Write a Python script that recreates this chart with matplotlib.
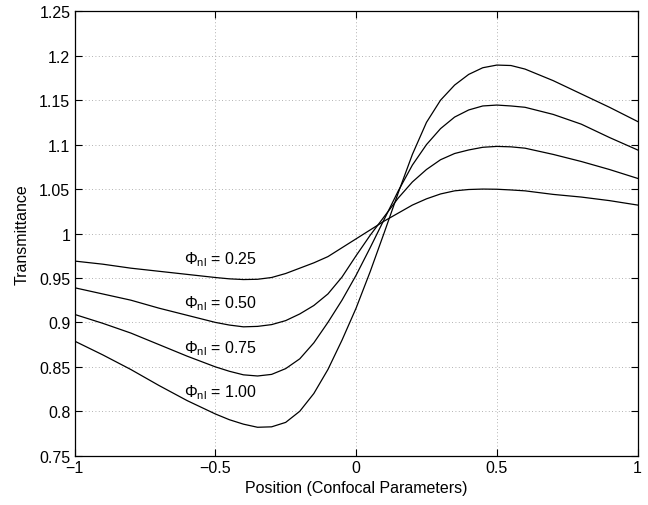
import numpy as np
import matplotlib
matplotlib.use("Agg")
import matplotlib.pyplot as plt
from matplotlib.ticker import FixedLocator, FuncFormatter

plt.rcParams['font.family'] = ['Liberation Sans', 'DejaVu Sans']
plt.rcParams['mathtext.fontset'] = 'custom'
plt.rcParams['mathtext.rm'] = 'Liberation Sans'
plt.rcParams['mathtext.it'] = 'Liberation Sans:italic'

# position in confocal parameters
position = [-1.0, -0.9, -0.8, -0.7, -0.6, -0.5, -0.45, -0.4, -0.35, -0.3, -0.25,
            -0.2, -0.15, -0.1, -0.05, 0.0, 0.05, 0.1, 0.15, 0.2, 0.25, 0.3,
            0.35, 0.4, 0.45, 0.5, 0.55, 0.6, 0.7, 0.8, 0.9, 1.0]

t_025 = [0.969, 0.9655, 0.961, 0.9575, 0.954, 0.9505, 0.949, 0.9482, 0.9485, 0.9505, 0.955,
         0.961, 0.967, 0.974, 0.984, 0.994, 1.004, 1.014, 1.023, 1.032, 1.039, 1.0445,
         1.048, 1.0495, 1.050, 1.0498, 1.049, 1.048, 1.044, 1.041, 1.037, 1.032]
t_050 = [0.939, 0.932, 0.925, 0.916, 0.908, 0.900, 0.897, 0.895, 0.8955, 0.8975, 0.902,
         0.9095, 0.919, 0.932, 0.951, 0.975, 0.998, 1.019, 1.040, 1.058, 1.072, 1.083,
         1.090, 1.094, 1.097, 1.098, 1.0975, 1.096, 1.089, 1.081, 1.072, 1.062]
t_075 = [0.909, 0.899, 0.888, 0.875, 0.862, 0.850, 0.845, 0.841, 0.8397, 0.8415, 0.848,
         0.859, 0.877, 0.900, 0.925, 0.953, 0.984, 1.016, 1.048, 1.077, 1.100, 1.118,
         1.131, 1.139, 1.1435, 1.1445, 1.1435, 1.142, 1.134, 1.123, 1.108, 1.094]
t_100 = [0.879, 0.8635, 0.847, 0.829, 0.812, 0.797, 0.7905, 0.7855, 0.782, 0.7825, 0.7875,
         0.800, 0.820, 0.847, 0.880, 0.916, 0.957, 1.001, 1.046, 1.089, 1.125, 1.150,
         1.167, 1.179, 1.1865, 1.1895, 1.189, 1.185, 1.172, 1.157, 1.142, 1.126]

phase = ['0.25', '0.50', '0.75', '1.00']
label_y = [0.9665, 0.9165, 0.8665, 0.8165]

xticks = [-1, -0.5, 0, 0.5, 1]
yticks = [0.75, 0.8, 0.85, 0.9, 0.95, 1.0, 1.05, 1.1, 1.15, 1.2, 1.25]

fig = plt.figure(figsize=(6.48, 5.06), dpi=100)
ax = fig.add_axes([0.115, 0.0974, 0.869, 0.8783])

for t in [t_025, t_050, t_075, t_100]:
    ax.plot(position, t, color='black', lw=0.9)

for p, yy in zip(phase, label_y):
    ax.text(-0.611, yy, r'$\Phi_{\rm nl}$ = ' + p, fontsize=11.5, ha='left', va='baseline')

ax.set_xlim(-1, 1)
ax.set_ylim(0.75, 1.25)
ax.xaxis.set_major_locator(FixedLocator(xticks))
ax.yaxis.set_major_locator(FixedLocator(yticks))
fmt = FuncFormatter(lambda v, pos: ('%g' % v).replace('-', '\u2212'))
ax.xaxis.set_major_formatter(fmt)
ax.yaxis.set_major_formatter(fmt)
ax.tick_params(direction='in', length=5, width=0.8, labelsize=11.5, pad=3,
               top=True, right=True)
ax.grid(True, color='0.6', linestyle=(0, (1, 3)), lw=0.6)
for s in ax.spines.values():
    s.set_linewidth(0.9)

ax.set_xlabel('Position (Confocal Parameters)', fontsize=11.5, labelpad=4)
ax.set_ylabel('Transmittance', fontsize=11.5, labelpad=7)

fig.savefig('out.png', dpi=100)
